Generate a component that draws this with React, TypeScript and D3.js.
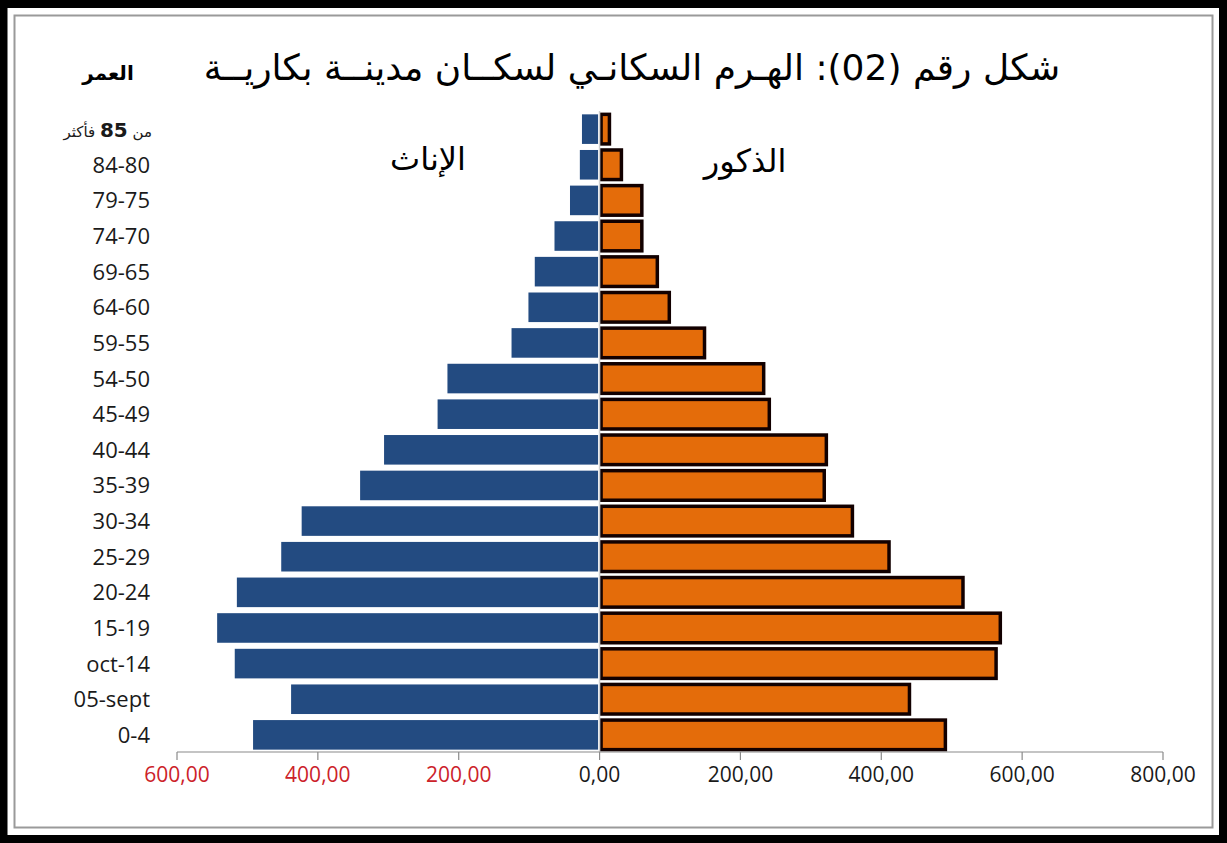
import React from "react";
import * as d3 from "d3";

const ageGroups = [
  "85+", "80-84", "75-79", "70-74", "65-69", "60-64", "55-59", "50-54", "45-49",
  "40-44", "35-39", "30-34", "25-29", "20-24", "15-19", "10-14", "5-9", "0-4",
];
const ageLabels = [
  "من 85 فأكثر", "84-80", "79-75", "74-70", "69-65", "64-60", "59-55", "54-50", "45-49",
  "40-44", "35-39", "30-34", "25-29", "20-24", "15-19", "oct-14", "05-sept", "0-4",
];
const females = [25, 28, 42, 64, 92, 101, 125, 216, 230, 306, 340, 423, 452, 515, 543, 518, 438, 492];
const males = [14, 31, 60, 60, 82, 99, 149, 233, 241, 322, 319, 359, 411, 516, 569, 563, 440, 491];
const tickValues = [-600, -400, -200, 0, 200, 400, 600, 800];

const W = 1227;
const H = 843;

export default function App() {
  const x = d3.scaleLinear().domain([-600, 800]).range([177, 1163]);
  const y = d3.scaleBand<string>().domain(ageGroups).range([111.5, 752.5]).paddingInner(0.17).paddingOuter(0.08);
  const x0 = x(0);
  const axisY = 752;
  const fmt = (v: number) => d3.format(".2f")(Math.abs(v)).replace(".", ",");
  const arabic = "'DejaVu Sans', 'Noto Sans', sans-serif";
  const latin = "'Open Sans', 'Liberation Sans', sans-serif";

  return (
    <svg width={W} height={H} style={{ position: "absolute", left: 0, top: 0, background: "#fff" }}>
      <rect x={0} y={0} width={W} height={H} fill="#fff" />
      <rect x={3.5} y={4} width={W - 7.5} height={H - 8} fill="none" stroke="#000" strokeWidth={8} />
      <rect x={14.5} y={15.5} width={W - 29} height={H - 31} fill="none" stroke="#9a9a9a" strokeWidth={2} />

      <text x={632} y={80} fontFamily={arabic} fontSize={36} textAnchor="middle" direction="rtl" fill="#000">
        شكل رقم (02): الهـرم السكانـي لسكــان مدينــة بكاريــة
      </text>
      <text x={108} y={80} fontFamily={arabic} fontSize={20} fontWeight="bold" textAnchor="middle" direction="rtl" fill="#000">
        العمر
      </text>
      <text x={428} y={170} fontFamily={arabic} fontSize={32} textAnchor="middle" direction="rtl" fill="#000">
        الإناث
      </text>
      <text x={745} y={172} fontFamily={arabic} fontSize={32} textAnchor="middle" direction="rtl" fill="#000">
        الذكور
      </text>

      {ageGroups.map((g, i) => (
        <rect key={"f" + g} x={x(-females[i])} y={y(g)!} width={x0 - x(-females[i]) - 1.5} height={y.bandwidth()} fill="#234b81" />
      ))}
      {ageGroups.map((g, i) => (
        <rect key={"m" + g} x={x0 + 1.5} y={y(g)!} width={x(males[i]) - x0 - 1.5} height={y.bandwidth()} fill="#e46c0a" stroke="#120000" strokeWidth={3.5} />
      ))}

      <line x1={x0} x2={x0} y1={111} y2={axisY} stroke="#d0d0d0" strokeWidth={1.5} />

      {ageGroups.map((g, i) => (
        <text
          key={"l" + g}
          x={i === 0 ? 152 : 150}
          y={y(g)! + y.bandwidth() / 2 + 8}
          fontFamily={i === 0 ? arabic : latin}
          fontSize={i === 0 ? 15 : 22}
          textAnchor={i === 0 ? "start" : "end"}
          direction={i === 0 ? "rtl" : "ltr"}
          fill="#1a1a1a"
        >
          {i === 0 ? (
            <>
              من <tspan fontWeight="bold" fontSize={20}>85</tspan> فأكثر
            </>
          ) : (
            ageLabels[i]
          )}
        </text>
      ))}

      <line x1={x(-600)} x2={x(800)} y1={axisY} y2={axisY} stroke="#8a8a8a" strokeWidth={1.2} />
      {tickValues.map((v) => (
        <g key={"t" + v}>
          <line x1={x(v)} x2={x(v)} y1={axisY} y2={axisY + 8} stroke="#8a8a8a" strokeWidth={1.2} />
          <text x={x(v)} y={axisY + 30} fontFamily={latin} fontSize={21} textAnchor="middle" fill={v < 0 ? "#cc2229" : "#1a1a1a"}>
            {fmt(v)}
          </text>
        </g>
      ))}
    </svg>
  );
}
